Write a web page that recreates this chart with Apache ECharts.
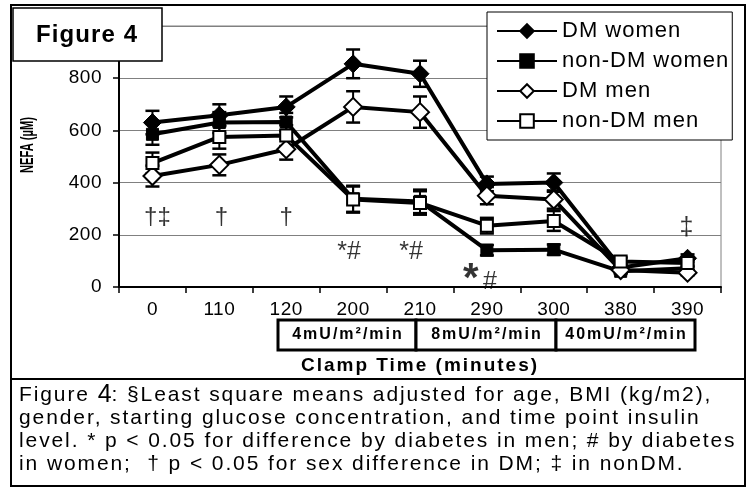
<!DOCTYPE html>
<html><head><meta charset="utf-8">
<script src="https://cdn.jsdelivr.net/npm/echarts@6/dist/echarts.min.js"></script>
<style>html,body{margin:0;padding:0;background:#fff}#c{width:749px;height:488px}</style>
</head><body><div id="c"></div>
<script>
// letter spacing support: a font family marker "lsApB" means A.B px spacing
(function(){
  const P = CanvasRenderingContext2D.prototype;
  const re = /ls(\d+)p(\d+)/;
  function apply(ctx){ const m = re.exec(ctx.font); const v = m ? (m[1] + '.' + m[2] + 'px') : '0px'; if (ctx.letterSpacing !== v) ctx.letterSpacing = v; }
  const f = P.fillText, s = P.strokeText, mt = P.measureText;
  P.fillText = function(){ apply(this); return f.apply(this, arguments); };
  P.strokeText = function(){ apply(this); return s.apply(this, arguments); };
  P.measureText = function(){ apply(this); return mt.apply(this, arguments); };
})();
function fam(ls){ if(!ls) return "'Liberation Sans', Arial, sans-serif"; const a = Math.floor(ls), b = Math.round((ls - a) * 10); return "'Liberation Sans', ls" + a + "p" + b + ", Arial, sans-serif"; }

// ---------------- data ----------------
const categories = ['0','110','120','200','210','290','300','380','390'];
const seriesNames = ['DM women','non-DM women','DM men','non-DM men'];
const dmWomen       = [630, 658, 690, 855, 817, 395, 400, 75, 110];
const dmWomenErr    = [45, 42, 40, 55, 50, 28, 35, 15, 15];
const nonDmWomen    = [585, 630, 632, 338, 328, 141, 143, 60, 72];
const nonDmWomenErr = [40, 40, 35, 50, 45, 20, 20, 10, 10];
const dmMen         = [425, 468, 528, 690, 670, 350, 335, 65, 55];
const dmMenErr      = [40, 40, 40, 60, 60, 33, 35, 10, 10];
const nonDmMen      = [475, 575, 580, 335, 322, 235, 253, 98, 92];
const nonDmMenErr   = [40, 45, 40, 50, 45, 30, 38, 15, 15];
const yTicks = [0, 200, 400, 600, 800, 1000];
const annotations = [
  {cat:'0',   value:268, text:'†‡'},
  {cat:'110', value:268, text:'†'},
  {cat:'120', value:268, text:'†'},
  {cat:'200', value:134, text:'*#'},
  {cat:'210', value:134, text:'*#'},
  {cat:'290', value:28,  text:'*'},
  {cat:'290', value:17,  text:'#'},
  {cat:'390', value:225, text:'‡'}
];
const clampBands = ['4mU/m²/min', '8mU/m²/min', '40mU/m²/min'];
const captionLines = [
  'Figure {big|4}: §Least square means adjusted for age, BMI (kg/m2),',
  'gender, starting glucose concentration, and time point insulin',
  'level. * p < 0.05 for difference by diabetes in men; # by diabetes',
  'in women;  † p < 0.05 for sex difference in DM; ‡ in nonDM.'
];

// ---------------- styles ----------------
const annotationStyle = [
  {dx:5, size:24}, {dx:2, size:24}, {dx:0, size:24},
  {dx:-4, size:25}, {dx:-9, size:25},
  {dx:-16, size:40, bold:true}, {dx:3, size:25},
  {dx:-1, size:25}
];
const bandBoxes = [[278, 416], [416, 556], [556, 695]];
const seriesStyle = [
  {symbol:'diamond', size:18, fill:'#000'},
  {symbol:'rect', size:12, fill:'#000'},
  {symbol:'diamond', size:18, fill:'#fff'},
  {symbol:'rect', size:12, fill:'#fff'}
];
const values = [dmWomen, nonDmWomen, dmMen, nonDmMen];
const errs = [dmWomenErr, nonDmWomenErr, dmMenErr, nonDmMenErr];

const chart = echarts.init(document.getElementById('c'));

const series = [];
values.forEach((vals, k) => {
  const e = errs[k];
  series.push({
    type: 'custom', name: 'err' + k, silent: true, z: 2,
    data: vals.map((v, i) => [i, v, e[i]]),
    encode: {x: 0, y: 1},
    renderItem(params, api) {
      const i = api.value(0), v = api.value(1), d = api.value(2);
      const top = api.coord([i, v + d]), bot = api.coord([i, v - d]);
      const hw = 7;
      const st = {stroke: '#000', lineWidth: 2};
      return {type: 'group', children: [
        {type: 'line', shape: {x1: top[0], y1: top[1], x2: bot[0], y2: bot[1]}, style: st},
        {type: 'line', shape: {x1: top[0] - hw, y1: top[1], x2: top[0] + hw, y2: top[1]}, style: {stroke:'#000', lineWidth: 2.5}},
        {type: 'line', shape: {x1: bot[0] - hw, y1: bot[1], x2: bot[0] + hw, y2: bot[1]}, style: {stroke:'#000', lineWidth: 2.5}}
      ]};
    }
  });
});
values.forEach((vals, k) => {
  const s = seriesStyle[k];
  series.push({
    type: 'line', name: seriesNames[k], data: vals, z: 3 + k,
    symbol: s.symbol, symbolSize: s.size, showAllSymbol: true,
    lineStyle: {color: '#000', width: 4},
    itemStyle: {color: s.fill, borderColor: '#000', borderWidth: s.fill === '#fff' ? 2 : 1},
    emphasis: {disabled: true}
  });
});
series.push({
  type: 'scatter', name: 'annotations', silent: true, z: 10,
  symbolSize: 1, itemStyle: {color: 'transparent'},
  data: annotations.map((a, i) => ({
    name: a.text,
    value: [categories.indexOf(a.cat), a.value],
    label: {
      show: true, position: 'inside', offset: [annotationStyle[i].dx, 0],
      formatter: '{b}', color: '#000',
      fontSize: annotationStyle[i].size,
      fontWeight: annotationStyle[i].bold ? 'bold' : 'normal',
      fontFamily: fam(0)
    }
  }))
});

const graphic = [
  // chart frame
  {type:'rect', z: 50, shape:{x:11, y:5, width:734, height:374}, style:{fill:'none', stroke:'#000', lineWidth:2}},
  // caption frame
  {type:'rect', z: 50, shape:{x:11, y:379, width:734, height:107}, style:{fill:'none', stroke:'#000', lineWidth:2}},
  // Figure 4 box
  {type:'rect', z: 60, shape:{x:13, y:8, width:149, height:53}, style:{fill:'#fff', stroke:'#000', lineWidth:1.5}},
  {type:'text', z: 61, style:{text:'Figure 4', x:87, y:35, fill:'#000', fontSize:24, fontWeight:'bold', fontFamily: fam(1.1), align:'center', verticalAlign:'middle'}},
  // y axis name
  {type:'text', z: 61, x: 28, y: 145, rotation: Math.PI / 2, scaleX: 0.62,
   style:{text:'NEFA (µM)', x:0, y:0, fill:'#000', fontSize:18, fontWeight:'bold', fontFamily: fam(0), align:'center', verticalAlign:'middle'}}
];
bandBoxes.forEach((b, i) => {
  graphic.push({type:'rect', z: 60, shape:{x:b[0], y:320, width:b[1]-b[0], height:30}, style:{fill:'#fff', stroke:'#000', lineWidth:3}});
  graphic.push({type:'text', z: 61, style:{text: clampBands[i], x:(b[0]+b[1])/2 + 1, y:335, fill:'#000', fontSize:16, fontWeight:'bold', fontFamily: fam(2.0), align:'center', verticalAlign:'middle'}});
});
captionLines.forEach((t, i) => {
  graphic.push({type:'text', z: 61, style:{text: t, x: 19, y: 395 + i * 23, fill:'#000', fontSize: 21, fontFamily: fam(1.9), align:'left', verticalAlign:'middle',
    rich: {big: {fontSize: 25, fontFamily: fam(0), fill:'#000'}}}});
});

chart.setOption({
  animation: false,
  backgroundColor: '#fff',
  grid: {left: 119, right: 28, top: 26, bottom: 201, show: true, borderColor: '#808080', borderWidth: 1, backgroundColor: 'transparent'},
  legend: {
    data: seriesNames, orient: 'vertical', left: 487, top: 12,
    backgroundColor: '#fff', borderColor: '#000', borderWidth: 1,
    padding: [7, 3, 7, 9], itemWidth: 60, itemHeight: 17, itemGap: 6,
    lineStyle: {width: 2},
    textStyle: {fontSize: 22, color: '#000', fontFamily: fam(1.0), lineHeight: 24},
    selectedMode: false, z: 40
  },
  xAxis: {
    type: 'category', data: categories, boundaryGap: true,
    axisLine: {lineStyle: {color: '#000', width: 2}},
    axisTick: {show: true, length: 6, lineStyle: {color: '#000', width: 1.5}},
    axisLabel: {color: '#000', fontSize: 19, margin: 13, fontFamily: fam(0.5)},
    name: 'Clamp Time (minutes)', nameLocation: 'middle', nameGap: 68,
    nameTextStyle: {color: '#000', fontSize: 19, fontWeight: 'bold', fontFamily: fam(2.0)}
  },
  yAxis: {
    type: 'value', min: yTicks[0], max: yTicks[yTicks.length - 1], interval: yTicks[1] - yTicks[0],
    axisLine: {show: true, lineStyle: {color: '#000', width: 2}},
    axisTick: {show: true, length: 6, lineStyle: {color: '#000', width: 1.5}},
    axisLabel: {color: '#000', fontSize: 19, margin: 17, fontFamily: fam(0.5)},
    splitLine: {show: true, lineStyle: {color: '#808080', width: 1}}
  },
  graphic: graphic,
  series: series
});
</script></body></html>
